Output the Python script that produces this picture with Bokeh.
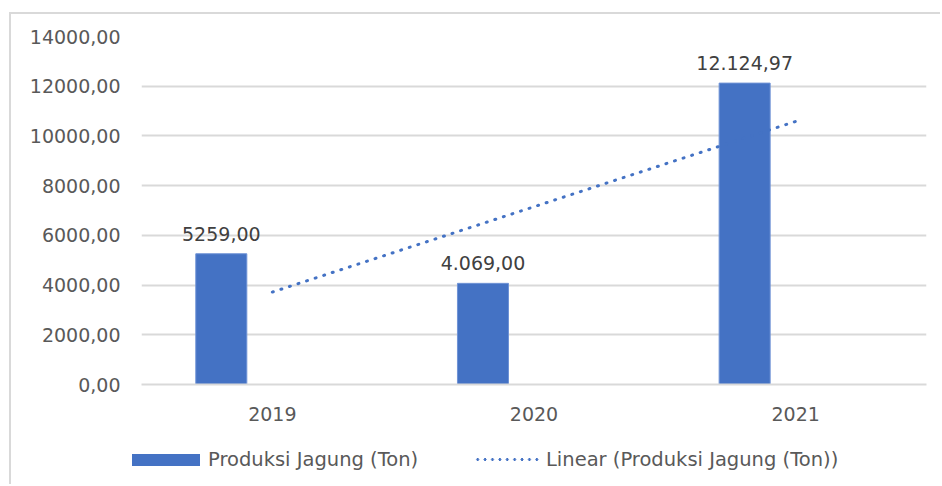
import numpy as np
from bokeh.plotting import figure
from bokeh.layouts import column
from bokeh.models import (ColumnDataSource, FactorRange, Range1d, FixedTicker, Div)
from bokeh.transform import dodge
from bokeh.core.properties import value
from bokeh.embed import file_html
from bokeh.resources import INLINE

# ---- data ----
years = ["2019", "2020", "2021"]
produksi = [5259.00, 4069.00, 12124.97]
data_labels = ["5259,00", "4.069,00", "12.124,97"]
y_ticks = [0, 2000, 4000, 6000, 8000, 10000, 12000, 14000]
y_tick_labels = ["0,00", "2000,00", "4000,00", "6000,00", "8000,00",
                 "10000,00", "12000,00", "14000,00"]
bar_label = "Produksi Jagung (Ton)"
trend_label = "Linear (Produksi Jagung (Ton))"

# linear trendline (least squares) of the bar series
idx = np.arange(len(years))
slope, intercept = np.polyfit(idx, produksi, 1)
trend_vals = (intercept + slope * idx).tolist()

src = ColumnDataSource(dict(x=years, top=produksi, label=data_labels, trend=trend_vals))

FONT = "DejaVu Sans"
BLUE = "#4472c4"
GRID = "#d9d9d9"
TXT = "#595959"
W = 929

p = figure(x_range=FactorRange(*years), y_range=Range1d(0, 14000),
           width=W, height=426, output_backend="svg", toolbar_location=None,
           min_border_left=130, min_border_right=14, min_border_top=22,
           min_border_bottom=56)
p.outline_line_color = None
p.background_fill_color = "white"
p.border_fill_color = "white"

bars = p.vbar(x=dodge("x", -0.195, range=p.x_range), top="top", width=0.195,
              source=src, fill_color=BLUE, line_color="#6f93d6", line_width=1)
trend = p.line(x="x", y="trend", source=src, line_color=BLUE, line_width=3,
               line_dash="1 8", line_cap="round")

p.text(x=dodge("x", -0.195, range=p.x_range), y="top", text="label", source=src,
       text_align="center", text_baseline="alphabetic", y_offset=-20,
       text_font=value(FONT), text_font_size="19px", text_color="#404040")

# axes
p.yaxis.ticker = FixedTicker(ticks=y_ticks)
p.yaxis.major_label_overrides = {t: l for t, l in zip(y_ticks, y_tick_labels)}
p.yaxis.axis_line_color = None
p.yaxis.major_tick_line_color = None
p.yaxis.minor_tick_line_color = None
p.yaxis.major_label_standoff = 15
p.yaxis.major_label_text_font = FONT
p.yaxis.major_label_text_font_size = "19px"
p.yaxis.major_label_text_color = TXT

p.xaxis.axis_line_color = GRID
p.xaxis.axis_line_width = 2
p.xaxis.major_tick_line_color = None
p.xaxis.minor_tick_line_color = None
p.xaxis.major_label_standoff = 16
p.xaxis.major_label_text_font = FONT
p.xaxis.major_label_text_font_size = "19px"
p.xaxis.major_label_text_color = TXT

p.xgrid.visible = False
p.ygrid.grid_line_color = GRID
p.ygrid.grid_line_width = 2

# ---- legend strip (HTML) ----
legend_html = f"""
<div style="position:relative;width:{W}px;height:44px;font-family:'DejaVu Sans';
            font-size:19.5px;color:{TXT};line-height:23px;white-space:nowrap;">
  <span style="position:absolute;left:121px;top:14px;width:68px;height:12px;
               background:{BLUE};"></span>
  <span style="position:absolute;left:197px;top:8px;">{bar_label}</span>
  <span style="position:absolute;left:463px;top:18px;width:67px;height:3px;
               background-image:radial-gradient(circle, {BLUE} 1.2px, transparent 1.7px);
               background-size:7.4px 3px;background-repeat:repeat-x;"></span>
  <span style="position:absolute;left:535px;top:8px;">{trend_label}</span>
</div>
"""
leg = Div(text=legend_html, width=W, height=44, margin=0)

layout = column(p, leg, spacing=0, margin=(12, 0, 0, 9),
                styles={"border-top": "2px solid #d9d9d9",
                        "border-left": "2px solid #d9d9d9"})
open("out.html", "w").write(file_html(layout, INLINE))
